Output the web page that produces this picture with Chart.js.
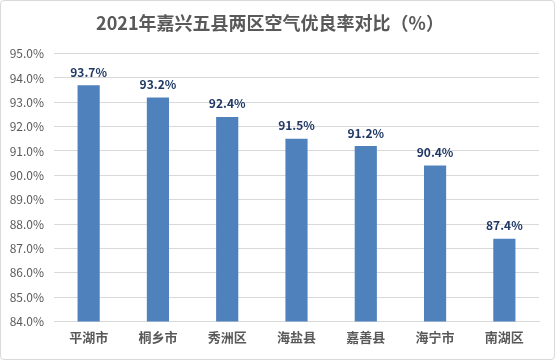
<!DOCTYPE html>
<html><head><meta charset="utf-8">
<script src="https://cdn.jsdelivr.net/npm/chart.js@4"></script>
<style>
html,body{margin:0;padding:0;background:#fff;}
#wrap{position:absolute;left:0;top:0;width:553px;height:358px;border:1px solid #d9d9d9;border-radius:4px;background:#fff;}
canvas{display:block;}
</style></head><body>
<div id="wrap"><canvas id="c" width="553" height="358"></canvas></div>
<script>
const categories = ['平湖市','桐乡市','秀洲区','海盐县','嘉善县','海宁市','南湖区'];
const rates = [93.7, 93.2, 92.4, 91.5, 91.2, 90.4, 87.4];
const yMin = 84, yMax = 95, yStep = 1;
const titleText = '2021年嘉兴五县两区空气优良率对比（%）';
const FONT = '"Microsoft YaHei","Noto Sans CJK SC","DejaVu Sans",sans-serif';

const labelPlugin = {
  id: 'valLabels',
  afterDatasetsDraw(chart) {
    const ctx = chart.ctx;
    const meta = chart.getDatasetMeta(0);
    ctx.save();
    ctx.font = 'bold 12px ' + FONT;
    ctx.fillStyle = '#1F3864';
    ctx.textAlign = 'center';
    ctx.textBaseline = 'bottom';
    meta.data.forEach((bar, i) => {
      ctx.fillText(rates[i].toFixed(1) + '%', bar.x, bar.y - 7);
    });
    ctx.restore();
  }
};

new Chart(document.getElementById('c'), {
  type: 'bar',
  data: {
    labels: categories,
    datasets: [{
      data: rates,
      backgroundColor: '#4F81BD',
      categoryPercentage: 1.0,
      barPercentage: 0.32
    }]
  },
  options: {
    responsive: false,
    animation: false,
    devicePixelRatio: 1,
    layout: { padding: { left: 0, right: 15, top: 0, bottom: 6 } },
    plugins: {
      legend: { display: false },
      tooltip: { enabled: false },
      title: {
        display: true,
        text: titleText,
        color: '#595959',
        font: { family: FONT, size: 18, weight: 'bold' },
        padding: { top: 11, bottom: 20 }
      }
    },
    scales: {
      x: {
        grid: { display: false, drawTicks: false },
        border: { display: true, color: '#d9d9d9' },
        ticks: { color: '#595959', font: { family: FONT, size: 13, weight: 'bold' }, padding: 8 }
      },
      y: {
        min: yMin, max: yMax,
        afterFit(s) { s.width = 53; },
        grid: { color: '#d9d9d9', drawTicks: false },
        border: { display: false },
        ticks: {
          stepSize: yStep,
          color: '#595959',
          font: { family: FONT, size: 12 },
          padding: 10,
          callback: v => v.toFixed(1) + '%'
        }
      }
    }
  },
  plugins: [labelPlugin]
});
</script>
</body></html>
